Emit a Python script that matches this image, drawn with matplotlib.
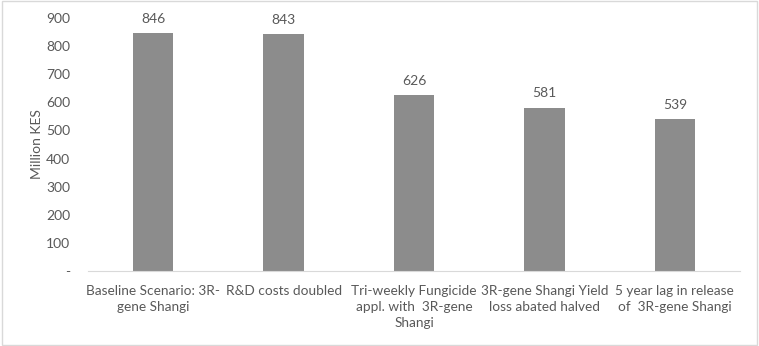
import matplotlib
matplotlib.use('Agg')
from matplotlib import pyplot as plt
from matplotlib.patches import Rectangle

categories = ['Baseline Scenario: 3R-\ngene Shangi',
              'R&D costs doubled',
              'Tri-weekly Fungicide\nappl. with  3R-gene\nShangi',
              '3R-gene Shangi Yield\nloss abated halved',
              '5 year lag in release\nof  3R-gene Shangi']
values = [846, 843, 626, 581, 539]
y_ticks = [0, 100, 200, 300, 400, 500, 600, 700, 800, 900]
y_tick_labels = ['-', '100', '200', '300', '400', '500', '600', '700', '800', '900']

plt.rcParams['font.family'] = ['Lato', 'DejaVu Sans']
txt = '#595959'

fig = plt.figure(figsize=(7.59, 3.46), dpi=100)
ax = fig.add_axes([88 / 759, 75 / 346, 652 / 759, 253 / 346])

x = range(len(values))
bars = ax.bar(x, values, width=0.31, color='#8c8c8c')
for i, v in zip(x, values):
    ax.text(i, v + 30, str(v), ha='center', va='bottom', fontsize=10, color=txt)

ax.set_xlim(-0.5, len(values) - 0.5)
ax.set_ylim(0, 900)
ax.set_yticks(y_ticks)
ax.set_yticklabels(y_tick_labels, fontsize=10, color=txt)
ax.set_xticks(list(x))
ax.set_xticklabels(categories, fontsize=9.8, color=txt, linespacing=1.4)
ax.tick_params(axis='x', length=0, pad=10)
ax.tick_params(axis='y', length=0, pad=13)
ax.set_ylabel('Million KES', fontsize=10, color=txt, labelpad=2)

for s in ['top', 'right', 'left']:
    ax.spines[s].set_visible(False)
ax.spines['bottom'].set_color('#d9d9d9')

fig.patches.append(Rectangle((0.002, 0.003), 0.996, 0.994, transform=fig.transFigure,
                             fill=False, edgecolor='#d9d9d9', linewidth=1))

plt.savefig('out.png', dpi=100)
